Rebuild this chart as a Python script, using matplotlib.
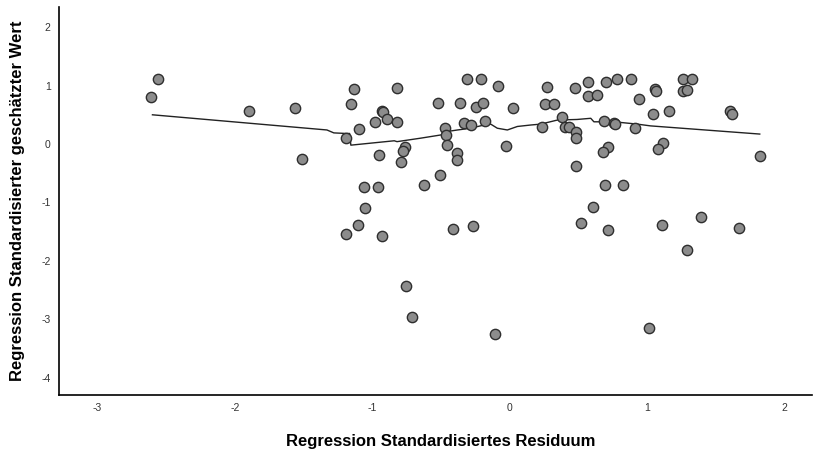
import matplotlib.pyplot as plt

plt.rcParams['font.family'] = ['Liberation Sans', 'DejaVu Sans']
plt.rcParams['axes.unicode_minus'] = False

# scatter points: standardized residual (x) vs standardized predicted value (y)
resid = [-2.61, -2.56, -1.90, -1.56, -1.51, -1.19, -1.156, -1.13, -1.10, -1.06,
         -1.055, -1.105, -1.19, -0.977, -0.95, -0.958, -0.93, -0.925, -0.895, -0.817,
         -0.817, -0.764, -0.78, -0.79, -0.926, -0.756, -0.708, -0.62, -0.504, -0.52,
         -0.36, -0.31, -0.21, -0.087, -0.245, -0.196, 0.022, -0.47, -0.465, -0.453,
         -0.385, -0.385, -0.33, -0.284, -0.18, -0.03, -0.41, -0.27, -0.11, 0.274,
         0.255, 0.32, 0.235, 0.38, 0.40, 0.434, 0.485, 0.48, 0.48, 0.473,
         0.567, 0.572, 0.633, 0.70, 0.78, 0.88, 0.943, 0.69, 0.76, 0.765,
         0.91, 0.713, 0.68, 0.695, 0.827, 0.52, 0.61, 0.715, 1.055, 1.062,
         1.265, 1.33, 1.258, 1.287, 1.04, 1.16, 1.607, 1.62, 1.115, 1.08,
         1.82, 1.016, 1.11, 1.29, 1.39, 1.67]
pred = [0.81, 1.11, 0.57, 0.61, -0.26, 0.10, 0.68, 0.94, 0.25, -0.73,
        -1.10, -1.39, -1.54, 0.377, -0.19, -0.74, 0.57, 0.55, 0.43, 0.955,
        0.377, -0.06, -0.125, -0.31, -1.58, -2.44, -2.96, -0.70, -0.53, 0.70,
        0.70, 1.11, 1.11, 1.00, 0.635, 0.70, 0.61, 0.28, 0.15, -0.01,
        -0.15, -0.27, 0.355, 0.32, 0.395, -0.04, -1.46, -1.40, -3.26, 0.97,
        0.69, 0.686, 0.29, 0.46, 0.29, 0.285, 0.20, 0.10, -0.37, 0.955,
        1.07, 0.82, 0.84, 1.06, 1.11, 1.11, 0.77, 0.40, 0.365, 0.35,
        0.27, -0.05, -0.14, -0.70, -0.70, -1.35, -1.08, -1.47, 0.94, 0.915,
        1.11, 1.11, 0.90, 0.93, 0.52, 0.57, 0.56, 0.515, 0.017, -0.09,
        -0.21, -3.16, -1.38, -1.81, -1.25, -1.44]

# loess fit line
fit_x = [-2.60, -1.33, -1.28, -1.19, -1.165, -1.156, -0.84, -0.82, -0.647, -0.50,
         -0.465, -0.38, -0.284, -0.187, -0.138, -0.09, -0.017, 0.056, 0.153, 0.225,
         0.347, 0.49, 0.59, 0.613, 0.76, 0.93, 1.025, 1.82]
fit_y = [0.50, 0.24, 0.19, 0.18, 0.18, -0.02, 0.055, 0.04, 0.10, 0.155,
         0.21, 0.24, 0.27, 0.325, 0.34, 0.27, 0.24, 0.30, 0.325, 0.34,
         0.41, 0.42, 0.44, 0.38, 0.38, 0.34, 0.31, 0.17]

fig = plt.figure(figsize=(8.14, 4.53), dpi=100)
ax = fig.add_axes([0.0725, 0.128, 0.925, 0.857])

ax.plot(fit_x, fit_y, color='#222222', linewidth=1.0, zorder=2)
ax.scatter(resid, pred, s=55, facecolor='#8c8c8c', edgecolor='#2e2e2e', linewidth=1.0, zorder=3)

ax.set_xlim(-3.28, 2.2)
ax.set_ylim(-4.3, 2.35)
ax.set_xticks([-3, -2, -1, 0, 1, 2])
ax.set_yticks([-4, -3, -2, -1, 0, 1, 2])
ax.tick_params(length=0, labelsize=7.5, labelcolor='#333333')
ax.tick_params(axis='x', pad=6)
ax.tick_params(axis='y', pad=6)

for side in ['top', 'right']:
    ax.spines[side].set_visible(False)
for side in ['left', 'bottom']:
    ax.spines[side].set_linewidth(1.2)
    ax.spines[side].set_color('black')

ax.set_xlabel('Regression Standardisiertes Residuum', fontsize=12, fontweight='bold', va='center')
ax.set_ylabel('Regression Standardisierter geschätzter Wert', fontsize=12, fontweight='bold', va='center')
ax.xaxis.set_label_coords(0.507, -0.1186)
ax.yaxis.set_label_coords(-0.0545, 0.5)

fig.savefig('out.png', dpi=100)
